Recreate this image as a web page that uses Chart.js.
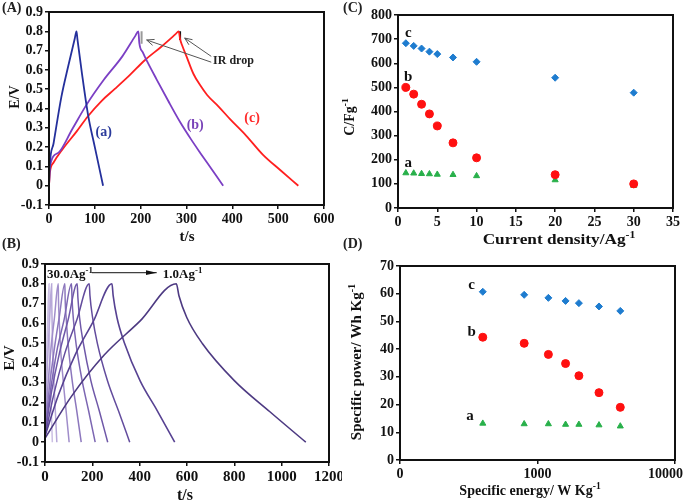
<!DOCTYPE html>
<html lang="en">
<head>
<meta charset="UTF-8">
<title>Charge-discharge curves and capacitance</title>
<script src="https://cdn.jsdelivr.net/npm/chart.js"></script>
<style>
  body { margin: 0; background: #fff; width: 685px; height: 503px; position: relative; overflow: hidden; }
  canvas { position: absolute; }
  .tag { position: absolute; font: bold 14px "Liberation Serif", serif; color: #222; z-index: 2; }
</style>
</head>
<body>
<canvas id="cA" width="342" height="250" style="left:0;top:0"></canvas>
<canvas id="cC" width="343" height="250" style="left:342px;top:0"></canvas>
<canvas id="cB" width="342" height="253" style="left:0;top:250px"></canvas>
<canvas id="cD" width="343" height="253" style="left:342px;top:250px"></canvas>
<div class="tag" style="left:2px;top:0">(A)</div>
<div class="tag" style="left:2px;top:236px">(B)</div>
<div class="tag" style="left:343px;top:0">(C)</div>
<div class="tag" style="left:343px;top:236px">(D)</div>

<script>
// ---------- (A) charge/discharge at 1 A/g for samples a, b, c ----------
var tA_a = [0, 1.5, 10, 27, 42, 56, 60, 62, 72, 85, 100, 118];
var vA_a = [0, 0.10, 0.22, 0.46, 0.62, 0.76, 0.80, 0.76, 0.58, 0.37, 0.20, 0];
var tA_b = [0, 2, 20, 50, 82, 120, 160, 188, 195, 197, 205, 215, 235, 260, 286, 310, 330, 355, 380];
var vA_b = [0, 0.10, 0.17, 0.29, 0.42, 0.55, 0.67, 0.775, 0.80, 0.74, 0.69, 0.64, 0.55, 0.44, 0.33, 0.24, 0.17, 0.085, 0];
var tA_c = [0, 2, 10, 30, 60, 85, 115, 143, 175, 209, 245, 276, 283, 286, 290, 300, 315, 330, 345, 370, 395, 430, 467, 505, 544];
var vA_c = [0, 0.07, 0.12, 0.19, 0.28, 0.36, 0.44, 0.50, 0.57, 0.65, 0.72, 0.785, 0.80, 0.76, 0.73, 0.67, 0.58, 0.52, 0.47, 0.41, 0.345, 0.26, 0.16, 0.08, 0];
// IR drop bars
var irB_t = [202, 202], irB_v = [0.80, 0.735];
var irC_t = [286, 286], irC_v = [0.80, 0.755];

// ---------- (B) sample c at 30 ... 1 A/g ----------
var tB_30 = [0, 3, 8, 12, 17, 17.3, 18, 19, 23, 27, 31];
var vB_30 = [0.06, 0.28, 0.48, 0.64, 0.80, 0.72, 0.61, 0.48, 0.30, 0.15, 0];
var tB_20 = [0, 6, 13, 20, 28, 28.5, 30, 32, 38, 44, 50];
var vB_20 = [0.06, 0.27, 0.47, 0.63, 0.80, 0.72, 0.61, 0.49, 0.30, 0.15, 0];
var tB_10 = [0, 11, 25, 40, 56, 57, 60, 65, 77, 89, 102];
var vB_10 = [0.05, 0.26, 0.47, 0.63, 0.80, 0.72, 0.62, 0.49, 0.31, 0.16, 0];
var tB_7 = [0, 17, 38, 60, 84, 85, 90, 98, 115, 134, 153];
var vB_7 = [0.05, 0.26, 0.46, 0.63, 0.80, 0.73, 0.62, 0.49, 0.31, 0.16, 0];
var tB_5 = [0, 22, 50, 81, 112, 114, 120, 132, 157, 184, 212];
var vB_5 = [0.04, 0.25, 0.46, 0.62, 0.80, 0.73, 0.62, 0.49, 0.31, 0.16, 0];
var tB_4 = [0, 27, 61, 98, 136, 139, 146, 162, 194, 229, 265];
var vB_4 = [0.04, 0.25, 0.45, 0.62, 0.80, 0.73, 0.63, 0.50, 0.31, 0.16, 0];
var tB_3 = [0, 37, 84, 135, 187, 190, 201, 221, 264, 310, 358];
var vB_3 = [0.03, 0.24, 0.45, 0.62, 0.80, 0.74, 0.63, 0.50, 0.31, 0.16, 0];
var tB_2 = [0, 57, 127, 204, 283, 288, 304, 336, 402, 474, 548];
var vB_2 = [0.03, 0.24, 0.44, 0.61, 0.80, 0.74, 0.63, 0.50, 0.31, 0.16, 0];
var tB_1 = [0, 111, 250, 400, 555, 566, 599, 664, 801, 949, 1102];
var vB_1 = [0.02, 0.23, 0.44, 0.61, 0.80, 0.74, 0.63, 0.50, 0.31, 0.155, 0];

// ---------- (C) specific capacitance vs current density ----------
var currentDensity = [1, 2, 3, 4, 5, 7, 10, 20, 30];
var capC = [683, 672, 661, 648, 638, 624, 606, 540, 478];
var capB = [500, 472, 430, 390, 340, 270, 208, 138, 100];
var capA = [145, 144, 142, 141, 139, 138, 133, 116, 93];

// ---------- (D) Ragone plot ----------
var specEnergy = [400, 800, 1200, 1600, 2000, 2800, 4000];
var powC = [60.7, 59.6, 58.5, 57.4, 56.6, 55.4, 53.8];
var powB = [44.3, 42.1, 38.1, 34.8, 30.4, 24.3, 19.0];
var powA = [13.2, 13.0, 13.0, 12.8, 12.8, 12.6, 12.2];
var ticksD = [100, 1000, 10000];
var tickLabelsD = ['0', '1000', '10000'];

var FONT = '"Liberation Serif", "Times New Roman", serif';
Chart.defaults.font.family = FONT;
Chart.defaults.color = '#111';

function pts(xs, ys) {
  return xs.map(function (x, i) { return { x: x, y: ys[i] }; });
}

function plain(v) { return String(parseFloat(Number(v).toFixed(3))); }

function axis(min, max, step, size) {
  return {
    type: 'linear', min: min, max: max,
    ticks: { stepSize: step, autoSkip: false, maxRotation: 0, font: { size: size, weight: 'bold' },
             color: '#111', padding: 2, callback: plain },
    grid: { drawOnChartArea: false, tickLength: 4, color: '#111', lineWidth: 1.5 },
    border: { color: '#111', width: 2 }
  };
}

// text with optional superscript parts: [[text, isSup], ...]
function label(ctx, parts, x, y, opt) {
  var size = opt.size, sx = opt.sx || 1;
  ctx.save();
  ctx.translate(x, y);
  if (opt.rot) ctx.rotate(-Math.PI / 2);
  ctx.scale(sx, 1);
  ctx.fillStyle = opt.color || '#111';
  ctx.textBaseline = 'middle';
  ctx.textAlign = 'left';
  var total = 0;
  parts.forEach(function (p) {
    ctx.font = 'bold ' + (p[1] ? size * 0.68 : size) + 'px ' + FONT;
    total += ctx.measureText(p[0]).width;
  });
  var cx = opt.align === 'left' ? 0 : (opt.align === 'right' ? -total : -total / 2);
  parts.forEach(function (p) {
    ctx.font = 'bold ' + (p[1] ? size * 0.68 : size) + 'px ' + FONT;
    ctx.fillText(p[0], cx, p[1] ? -size * 0.32 : 0);
    cx += ctx.measureText(p[0]).width;
  });
  ctx.restore();
}

function arrow(ctx, x1, y1, x2, y2, filled, color) {
  var ang = Math.atan2(y2 - y1, x2 - x1), h = filled ? 11 : 8, w = filled ? 0.22 : 0.4;
  ctx.save();
  ctx.strokeStyle = color; ctx.fillStyle = color; ctx.lineWidth = 1;
  ctx.beginPath(); ctx.moveTo(x1, y1); ctx.lineTo(x2, y2); ctx.stroke();
  ctx.beginPath();
  ctx.moveTo(x2 - h * Math.cos(ang - w), y2 - h * Math.sin(ang - w));
  ctx.lineTo(x2, y2);
  ctx.lineTo(x2 - h * Math.cos(ang + w), y2 - h * Math.sin(ang + w));
  if (filled) { ctx.closePath(); ctx.fill(); } else { ctx.stroke(); }
  ctx.restore();
}

function makeChart(id, area, datasets, xScale, yScale, draw) {
  var cv = document.getElementById(id);
  var W = cv.width, H = cv.height;
  xScale.afterFit = function (s) { s.height = H - area.b; s.paddingLeft = 0; s.paddingRight = 0; };
  yScale.afterFit = function (s) { s.width = area.l; s.paddingTop = 0; s.paddingBottom = 0; };
  return new Chart(cv, {
    type: 'scatter',
    data: { datasets: datasets },
    options: {
      responsive: false, animation: false, devicePixelRatio: 1,
      layout: { padding: { left: 0, top: area.t, right: W - area.r, bottom: 0 } },
      plugins: { legend: { display: false }, tooltip: { enabled: false } },
      scales: { x: xScale, y: yScale }
    },
    plugins: [{
      id: 'frame',
      afterDraw: function (chart) {
        var ctx = chart.ctx, a = chart.chartArea;
        ctx.save();
        ctx.strokeStyle = '#111'; ctx.lineWidth = 2;
        ctx.strokeRect(a.left, a.top, a.right - a.left, a.bottom - a.top);
        ctx.restore();
        draw(chart, ctx, chart.scales.x, chart.scales.y);
      }
    }]
  });
}

function curve(xs, ys, color, width) {
  return { data: pts(xs, ys), showLine: true, borderColor: color, borderWidth: width,
           pointRadius: 0, cubicInterpolationMode: 'monotone' };
}
function bar(xs, ys, color) {
  return { data: pts(xs, ys), showLine: true, borderColor: color, borderWidth: 2, pointRadius: 0 };
}
function marks(xs, ys, color, style, r) {
  return { data: pts(xs, ys), showLine: false, pointStyle: style, pointRadius: r,
           backgroundColor: color, borderColor: color, borderWidth: 1 };
}

// ---- (A) ----
makeChart('cA', { l: 49, t: 12, r: 324, b: 205 }, [
  curve(tA_a, vA_a, '#24309c', 1.8),
  curve(tA_b, vA_b, '#7b3fc4', 1.8),
  curve(tA_c, vA_c, '#ff1f1f', 1.8),
  bar(irB_t, irB_v, '#9a9a9a'),
  bar(irC_t, irC_v, '#111')
], axis(0, 600, 100, 14), axis(-0.1, 0.9, 0.1, 14), function (chart, ctx, x, y) {
  label(ctx, [['t/s']], 187, 237, { size: 15 });
  label(ctx, [['E/V']], 15, 97, { size: 14, rot: true });
  label(ctx, [['(a)']], x.getPixelForValue(119.5), y.getPixelForValue(0.278), { size: 14, color: '#2b3b9c' });
  label(ctx, [['(b)']], x.getPixelForValue(319), y.getPixelForValue(0.313), { size: 14, color: '#7a44b8' });
  label(ctx, [['(c)']], x.getPixelForValue(443), y.getPixelForValue(0.349), { size: 14, color: '#ff2a2a' });
  label(ctx, [['IR drop']], x.getPixelForValue(358), y.getPixelForValue(0.648), { size: 12, align: 'left', color: '#222' });
  arrow(ctx, x.getPixelForValue(354), y.getPixelForValue(0.64), x.getPixelForValue(213), y.getPixelForValue(0.755), false, '#555');
  arrow(ctx, x.getPixelForValue(354), y.getPixelForValue(0.67), x.getPixelForValue(296), y.getPixelForValue(0.765), false, '#555');
});

// ---- (B) ----
makeChart('cB', { l: 45, t: 14, r: 329, b: 212 }, [
  curve(tB_1, vB_1, '#4d3a82', 1.6),
  curve(tB_2, vB_2, '#574292', 1.6),
  curve(tB_3, vB_3, '#634c9d', 1.5),
  curve(tB_4, vB_4, '#6f58a8', 1.5),
  curve(tB_5, vB_5, '#7c66b2', 1.5),
  curve(tB_7, vB_7, '#8c77bd', 1.5),
  curve(tB_10, vB_10, '#a08dca', 1.5),
  curve(tB_20, vB_20, '#b7a8d8', 1.5),
  curve(tB_30, vB_30, '#cbbfe3', 1.5)
], axis(0, 1200, 200, 15), axis(-0.1, 0.9, 0.1, 14), function (chart, ctx, x, y) {
  label(ctx, [['t/s']], 185, 246, { size: 16 });
  label(ctx, [['E/V']], 10, 108, { size: 15, rot: true });
  label(ctx, [['30.0Ag'], ['-1', true]], x.getPixelForValue(8), y.getPixelForValue(0.846), { size: 13, align: 'left' });
  arrow(ctx, x.getPixelForValue(198), y.getPixelForValue(0.856), x.getPixelForValue(472), y.getPixelForValue(0.856), true, '#111');
  label(ctx, [['1.0Ag'], ['-1', true]], x.getPixelForValue(498), y.getPixelForValue(0.846), { size: 13, align: 'left' });
});

// ---- (C) ----
makeChart('cC', { l: 56, t: 15, r: 331, b: 208 }, [
  marks(currentDensity, capC, '#1e7ccf', 'rectRot', 3.5),
  marks(currentDensity, capB, '#ff1010', 'circle', 4),
  marks(currentDensity, capA, '#28b04a', 'triangle', 3.5)
], axis(0, 35, 5, 14), axis(0, 800, 100, 14), function (chart, ctx, x, y) {
  label(ctx, [['Current density/Ag'], ['-1', true]], 217, 240, { size: 15, sx: 1.15 });
  label(ctx, [['C/Fg'], ['-1', true]], 8, 117, { size: 14, rot: true });
  label(ctx, [['c']], x.getPixelForValue(1.3), y.getPixelForValue(724), { size: 15 });
  label(ctx, [['b']], x.getPixelForValue(1.3), y.getPixelForValue(544), { size: 15 });
  label(ctx, [['a']], x.getPixelForValue(1.3), y.getPixelForValue(188), { size: 15 });
});

// ---- (D) ----
var xD = axis(100, 10000, null, 14);
xD.type = 'logarithmic';
xD.afterBuildTicks = function (s) { s.ticks = ticksD.map(function (v) { return { value: v }; }); };
xD.ticks.callback = function () { return ''; };
makeChart('cD', { l: 58, t: 16, r: 333, b: 210 }, [
  marks(specEnergy, powC, '#1e7ccf', 'rectRot', 3.5),
  marks(specEnergy, powB, '#ff1010', 'circle', 4),
  marks(specEnergy, powA, '#28b04a', 'triangle', 3.5)
], xD, axis(0, 70, 10, 14), function (chart, ctx, x, y) {
  var ty = chart.chartArea.bottom + 14;
  ticksD.forEach(function (v, i) {
    var last = i === ticksD.length - 1;
    label(ctx, [[tickLabelsD[i]]], last ? chart.width - 2 : x.getPixelForValue(v), ty, { size: 14, align: last ? 'right' : 'center' });
  });
  label(ctx, [['Specific energy/ W Kg'], ['-1', true]], 188, 241, { size: 14 });
  label(ctx, [['Specific power/ Wh Kg'], ['-1', true]], 15, 112, { size: 15, rot: true });
  label(ctx, [['c']], x.getPixelForValue(332), y.getPixelForValue(63.1), { size: 15 });
  label(ctx, [['b']], x.getPixelForValue(332), y.getPixelForValue(46.3), { size: 15 });
  label(ctx, [['a']], x.getPixelForValue(323), y.getPixelForValue(15.9), { size: 15 });
});
</script>
</body>
</html>
